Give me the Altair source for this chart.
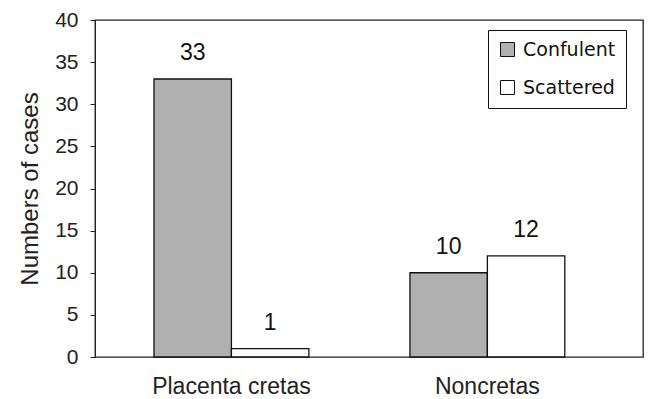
import altair as alt
import pandas as pd

groups = ["Placenta cretas", "Noncretas"]
series = ["Confulent", "Scattered"]
confulent = [33, 10]
scattered = [1, 12]

rows = []
for g, c, s in zip(groups, confulent, scattered):
    rows.append({"group": g, "type": "Confulent", "cases": c})
    rows.append({"group": g, "type": "Scattered", "cases": s})
df = pd.DataFrame(rows)

font = "Liberation Sans"
wide = "DejaVu Sans"

x = alt.X("group:N", sort=groups, title=None,
          scale=alt.Scale(paddingInner=0.395, paddingOuter=0.268, align=0.43),
          axis=alt.Axis(labelAngle=0, ticks=False, domain=False, labelPadding=18,
                        labelFontSize=23, labelFont=font, labelColor="#222"))
xo = alt.XOffset("type:N", sort=series)
y = alt.Y("cases:Q", title="Numbers of cases",
          scale=alt.Scale(domain=[0, 40]),
          axis=alt.Axis(values=list(range(0, 41, 5)), grid=False, tickSize=5,
                        tickColor="#222", domainColor="#222", labelFontSize=21,
                        labelFont=font, labelColor="#222", labelPadding=12,
                        titleFontSize=24, titleFont=font, titleFontWeight="normal",
                        titleColor="#222", titlePadding=12))

bars = alt.Chart(df).mark_bar(stroke="#111", strokeWidth=1.3).encode(
    x=x, xOffset=xo, y=y,
    fill=alt.Fill("type:N", sort=series,
                  scale=alt.Scale(domain=series, range=["#b0b0b0", "#ffffff"]),
                  legend=alt.Legend(title=None, orient="none", legendX=393, legendY=10,
                                    strokeColor="#111", fillColor="white", padding=10,
                                    symbolType="square", symbolSize=196,
                                    symbolStrokeColor="#111", symbolStrokeWidth=1,
                                    labelFontSize=19, labelFont=wide, labelColor="#111",
                                    rowPadding=18, labelOffset=6)),
)

labels = alt.Chart(df).mark_text(baseline="alphabetic", dy=-19, fontSize=23, font=font,
                                 color="#111").encode(
    x=x, xOffset=xo, y=y, text="cases:Q")

chart = (bars + labels).properties(
    width=548, height=337,
    padding={"left": 95, "top": 20, "right": 5, "bottom": 42},
    autosize=alt.AutoSizeParams(type="none"),
).configure_view(stroke="#222", strokeWidth=1.3)

chart.save("out.html", embed_options={"renderer": "svg", "actions": False})
